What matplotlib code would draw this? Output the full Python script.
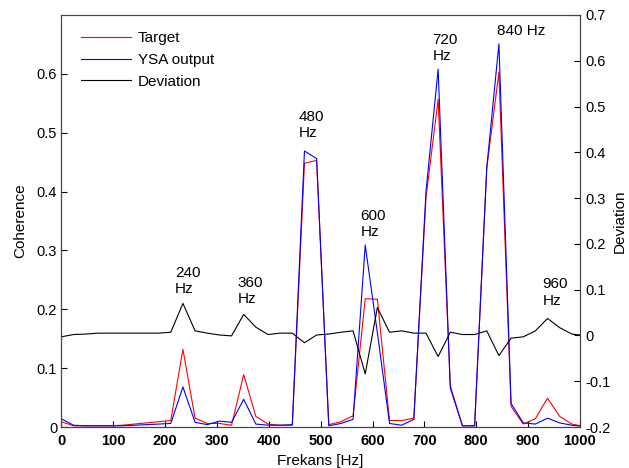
import numpy as np
import matplotlib
matplotlib.use('Agg')
import matplotlib.pyplot as plt

plt.rcParams['font.family'] = ['Liberation Sans', 'DejaVu Sans']
plt.rcParams['font.size'] = 11
plt.rcParams['axes.unicode_minus'] = False

# frequency bins (Hz)
freq = np.arange(44) * 23.4375

target = [0.009, 0.002, 0.002, 0.002, 0.002, 0.003, 0.005, 0.007, 0.009, 0.011,
          0.132, 0.015, 0.006, 0.006, 0.003, 0.089, 0.018, 0.005, 0.003, 0.003,
          0.448, 0.453, 0.004, 0.009, 0.019, 0.218, 0.217, 0.011, 0.011, 0.015,
          0.390, 0.557, 0.070, 0.002, 0.002, 0.440, 0.603, 0.035, 0.005, 0.014,
          0.049, 0.018, 0.005, 0.001]
ysa = [0.014, 0.003, 0.002, 0.002, 0.002, 0.002, 0.003, 0.004, 0.005, 0.006,
       0.068, 0.008, 0.004, 0.010, 0.008, 0.047, 0.005, 0.003, 0.003, 0.004,
       0.469, 0.456, 0.002, 0.006, 0.013, 0.309, 0.160, 0.006, 0.003, 0.013,
       0.400, 0.608, 0.066, 0.002, 0.002, 0.440, 0.651, 0.040, 0.007, 0.005,
       0.015, 0.007, 0.003, 0.001]
deviation = [-0.003, 0.002, 0.003, 0.005, 0.005, 0.005, 0.005, 0.005, 0.005, 0.007,
             0.070, 0.010, 0.005, 0.001, -0.001, 0.046, 0.018, 0.002, 0.005, 0.005,
             -0.016, 0.001, 0.003, 0.007, 0.010, -0.084, 0.061, 0.007, 0.010, 0.005,
             0.005, -0.046, 0.007, 0.002, 0.002, 0.010, -0.044, -0.006, -0.003, 0.010,
             0.037, 0.017, 0.003, 0.000]

# peak labels: (x, y on coherence axis, text)
peak_labels = [(219, 0.223, '240\nHz'), (340, 0.205, '360\nHz'), (458, 0.487, '480\nHz'),
               (577, 0.319, '600\nHz'), (716, 0.618, '720\nHz'), (840, 0.661, '840 Hz'),
               (928, 0.203, '960\nHz')]

fig = plt.figure(figsize=(6.29, 4.68), dpi=100)
ax = fig.add_axes([0.0976, 0.0876, 0.8244, 0.8804])
ax2 = ax.twinx()

l1, = ax.plot(freq, target, color='red', lw=0.8, label='Target')
l2, = ax.plot(freq, ysa, color='blue', lw=0.8, label='YSA output')
l3, = ax2.plot(freq, deviation, color='black', lw=0.8, label='Deviation')

ax.set_xlim(0, 1000)
ax.set_ylim(0, 0.7)
ax2.set_ylim(-0.2, 0.7)
ax.set_xticks(range(0, 1001, 100))
ax.set_xticklabels([str(v) for v in range(0, 1001, 100)], fontweight='bold', fontsize=10.5)
ax.set_yticks([0, 0.1, 0.2, 0.3, 0.4, 0.5, 0.6])
ax.set_yticklabels(['0', '0.1', '0.2', '0.3', '0.4', '0.5', '0.6'], fontsize=10.5)
ax2.set_yticks([-0.2, -0.1, 0, 0.1, 0.2, 0.3, 0.4, 0.5, 0.6, 0.7])
ax2.set_yticklabels(['-0.2', '-0.1', '0', '0.1', '0.2', '0.3', '0.4', '0.5', '0.6', '0.7'],
                    fontsize=10.5)

ax.tick_params(axis='x', direction='in', length=4, width=0.8, pad=5)
ax.tick_params(axis='y', direction='in', length=4, width=0.8, pad=3)
ax2.tick_params(direction='in', length=4, width=0.8, pad=4)
for a in (ax, ax2):
    for s in a.spines.values():
        s.set_color('#444444')
        s.set_linewidth(0.8)

ax.set_xlabel('Frekans [Hz]', labelpad=4)
ax.set_ylabel('Coherence', labelpad=7)
ax2.set_ylabel('Deviation', labelpad=1.5)

for x, y, t in peak_labels:
    ax.text(x, y, t, ha='left', va='bottom', fontsize=11)

ax2.legend([l1, l2, l3], ['Target', 'YSA output', 'Deviation'], loc='upper left',
           bbox_to_anchor=(0.026, 0.975), borderaxespad=0, frameon=False,
           handlelength=3.3, handletextpad=0.4, labelspacing=0.5, fontsize=11)

fig.savefig('out.png', dpi=100)
